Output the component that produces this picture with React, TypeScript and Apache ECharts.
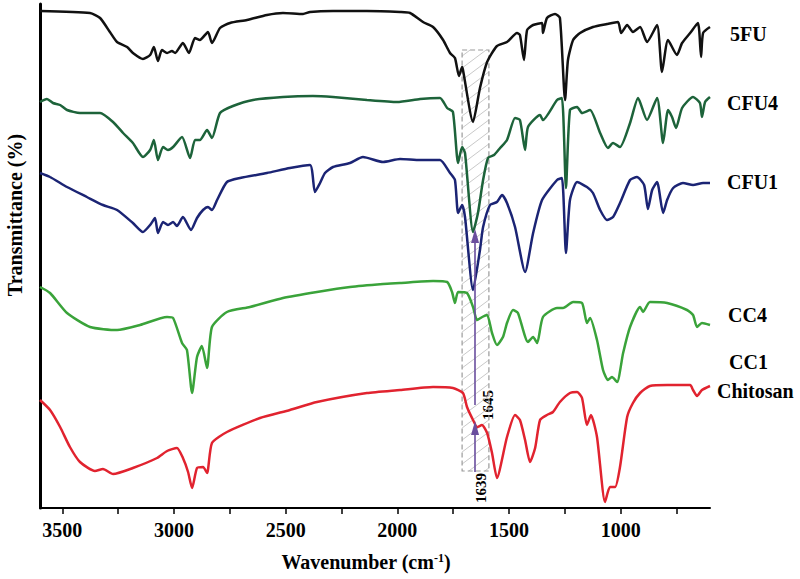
import React, { useEffect, useRef } from "react";
import * as echarts from "echarts";

// x-axis (wavenumber, cm-1)
const X_MIN = 600;
const X_MAX = 3600;
const X_LABELS = [3500, 3000, 2500, 2000, 1500, 1000];
const X_TICKS = [3500, 3250, 3000, 2750, 2500, 2250, 2000, 1750, 1500, 1250, 1000, 750];

// transmittance (arbitrary offset units), [wavenumber, value]
const FU5: [number, number][] = [
  [3600, 497], [3376, 495], [3331, 490], [3287, 476], [3255, 466], [3210, 461], [3184, 455],
  [3139, 449], [3107, 453], [3090, 461], [3072, 447], [3054, 458], [3031, 455], [3009, 457],
  [2995, 455], [2960, 465], [2933, 455], [2906, 470], [2884, 468], [2848, 476], [2830, 465],
  [2794, 480], [2749, 485], [2673, 488], [2584, 493], [2512, 495], [2422, 494], [2391, 496],
  [2288, 497], [2136, 497], [1988, 496], [1943, 495], [1885, 486], [1840, 481], [1795, 468],
  [1764, 455], [1742, 450], [1724, 432], [1710, 441], [1706, 438], [1661, 386], [1630, 420],
  [1598, 446], [1554, 462], [1509, 466], [1464, 475], [1451, 473], [1433, 448], [1419, 478],
  [1392, 483], [1352, 485], [1348, 475], [1330, 490], [1294, 494], [1272, 490], [1249, 408],
  [1236, 448], [1213, 468], [1182, 475], [1124, 481], [1061, 484], [1012, 486], [998, 475],
  [971, 483], [945, 476], [913, 481], [882, 466], [837, 483], [815, 436], [788, 468],
  [748, 453], [725, 465], [689, 475], [654, 485], [640, 451], [631, 475], [600, 481],
];

const CFU4: [number, number][] = [
  [3600, 406], [3569, 409], [3542, 405], [3510, 403], [3479, 398], [3421, 395], [3331, 395],
  [3273, 386], [3228, 375], [3184, 365], [3139, 351], [3107, 358], [3090, 368], [3072, 348],
  [3049, 361], [3027, 358], [3004, 361], [2964, 371], [2928, 350], [2906, 368], [2884, 368],
  [2852, 378], [2830, 370], [2794, 395], [2736, 402], [2646, 408], [2512, 411], [2378, 412],
  [2288, 411], [2136, 408], [2001, 406], [1898, 409], [1809, 410], [1777, 400], [1751, 396],
  [1728, 345], [1710, 361], [1697, 355], [1661, 276], [1639, 295], [1616, 328], [1594, 350],
  [1567, 353], [1540, 360], [1509, 368], [1473, 390], [1451, 388], [1428, 358], [1415, 381],
  [1361, 393], [1348, 388], [1285, 408], [1263, 410], [1245, 320], [1227, 398], [1195, 401],
  [1173, 395], [1137, 398], [1092, 375], [1057, 360], [1034, 365], [1003, 361], [958, 385],
  [922, 410], [882, 388], [837, 410], [810, 365], [788, 398], [770, 391], [752, 380],
  [725, 400], [676, 411], [645, 405], [636, 391], [622, 406], [600, 411],
];

const CFU1: [number, number][] = [
  [3600, 335], [3555, 331], [3479, 321], [3390, 311], [3318, 303], [3255, 298], [3184, 285],
  [3139, 276], [3107, 283], [3085, 290], [3072, 275], [3049, 286], [3027, 283], [3004, 286],
  [2987, 282], [2960, 291], [2924, 278], [2897, 290], [2870, 298], [2848, 301], [2830, 298],
  [2807, 308], [2763, 326], [2704, 330], [2584, 335], [2481, 340], [2391, 343], [2369, 316],
  [2346, 325], [2324, 335], [2288, 341], [2212, 345], [2154, 351], [2064, 346], [1988, 349],
  [1898, 348], [1809, 348], [1764, 335], [1742, 328], [1728, 295], [1710, 303], [1697, 291],
  [1661, 218], [1630, 258], [1616, 281], [1585, 303], [1554, 306], [1531, 313], [1509, 305],
  [1473, 281], [1428, 236], [1392, 275], [1352, 308], [1285, 328], [1263, 330], [1245, 255],
  [1227, 308], [1195, 326], [1151, 321], [1124, 315], [1092, 298], [1061, 288], [1034, 291],
  [1003, 305], [958, 328], [927, 331], [895, 323], [878, 299], [859, 318], [837, 326],
  [810, 295], [792, 308], [765, 320], [721, 325], [676, 323], [631, 325], [600, 325],
];

const CC4: [number, number][] = [
  [3600, 221], [3555, 215], [3479, 195], [3376, 181], [3255, 178], [3152, 183], [3031, 191],
  [3004, 190], [2964, 165], [2942, 158], [2919, 115], [2897, 151], [2875, 162], [2852, 140],
  [2830, 181], [2763, 196], [2660, 201], [2512, 210], [2360, 216], [2212, 221], [2064, 224],
  [1988, 225], [1840, 227], [1777, 226], [1755, 216], [1742, 205], [1728, 216], [1688, 215],
  [1661, 201], [1643, 188], [1620, 191], [1598, 193], [1576, 175], [1554, 163], [1527, 171],
  [1509, 185], [1482, 198], [1460, 195], [1415, 166], [1392, 171], [1374, 165], [1348, 191],
  [1285, 200], [1258, 200], [1213, 206], [1173, 205], [1151, 185], [1137, 190], [1106, 168],
  [1079, 138], [1057, 128], [1039, 131], [1016, 126], [989, 155], [958, 181], [913, 201],
  [900, 196], [869, 206], [792, 205], [703, 198], [676, 193], [658, 181], [636, 185], [600, 183],
];

const CHITOSAN: [number, number][] = [
  [3600, 108], [3555, 98], [3510, 81], [3466, 61], [3421, 46], [3354, 37], [3318, 39],
  [3273, 34], [3184, 40], [3076, 50], [3031, 57], [2987, 60], [2960, 50], [2937, 36],
  [2919, 20], [2897, 40], [2870, 41], [2852, 35], [2830, 65], [2763, 76], [2615, 90],
  [2481, 98], [2360, 106], [2136, 115], [1988, 118], [1840, 121], [1751, 120], [1706, 115],
  [1688, 101], [1661, 88], [1643, 81], [1621, 83], [1598, 75], [1576, 55], [1554, 30],
  [1509, 71], [1473, 93], [1451, 88], [1428, 68], [1406, 46], [1383, 60], [1361, 88],
  [1330, 93], [1303, 96], [1272, 106], [1227, 115], [1195, 116], [1173, 110], [1151, 83],
  [1133, 93], [1106, 71], [1070, 6], [1048, 21], [1025, 21], [1003, 41], [971, 91],
  [945, 105], [913, 115], [869, 122], [792, 123], [689, 123], [676, 118], [658, 112],
  [636, 118], [600, 122],
];

// hatched band: [wn start, wn end, value bottom, value top]
const BAND: [number, number, number, number][] = [[1710, 1590, 37, 458]];
// annotation arrows: wavenumber, from value, to value, label
const ARROWS = [
  { wn: 1652, from: 103, to: 272, label: "1645" },
  { wn: 1652, from: 36, to: 80, label: "1639" },
];

const CURVES = [
  { name: "5FU", data: FU5, color: "#111111" },
  { name: "CFU4", data: CFU4, color: "#1d633a" },
  { name: "CFU1", data: CFU1, color: "#1b2474" },
  { name: "CC4", data: CC4, color: "#3aa33a" },
  { name: "Chitosan", data: CHITOSAN, color: "#e1232f" },
];

const SIDE_LABELS = ["5FU", "CFU4", "CFU1", "CC4", "CC1", "Chitosan"];

const FONT = "Liberation Serif";

export default function App() {
  const ref = useRef<HTMLDivElement>(null);
  useEffect(() => {
    if (!ref.current) return;
    const chart = echarts.init(ref.current, undefined, { renderer: "svg" });

    const labelPos: Record<string, [number, number]> = {
      "5FU": [730, 34],
      CFU4: [727, 103],
      CFU1: [727, 182],
      CC4: [728, 315],
      CC1: [729, 362],
      Chitosan: [717, 391],
    };

    const txt = (size: number) => ({
      fontFamily: FONT,
      fontWeight: "bold",
      fontSize: size,
      fill: "#000",
    });

    const series: any[] = [
      {
        type: "custom",
        name: "band",
        silent: true,
        z: 1,
        encode: { x: [0, 1], y: [2, 3] },
        data: BAND,
        renderItem: (params: any, api: any) => {
          const tl = api.coord([api.value(0), api.value(3)]);
          const br = api.coord([api.value(1), api.value(2)]);
          const x0 = tl[0], y0 = tl[1], x1 = br[0], y1 = br[1];
          const w = x1 - x0;
          const k = 0.75;
          const step = 12;
          const children: any[] = [];
          for (let c = y0 + step / 2; c < y1 + w * k; c += step) {
            let sx = x0, sy = c;
            if (sy > y1) { sx = x0 + (sy - y1) / k; sy = y1; }
            let ex = x1, ey = c - w * k;
            if (ey < y0) { ex = x0 + (c - y0) / k; ey = y0; }
            if (ex > sx) {
              children.push({
                type: "line",
                shape: { x1: sx, y1: sy, x2: ex, y2: ey },
                style: { stroke: "#c9c9c9", lineWidth: 1 },
              });
            }
          }
          children.push({
            type: "rect",
            shape: { x: x0, y: y0, width: w, height: y1 - y0 },
            style: { fill: "none", stroke: "#9a9a9a", lineWidth: 1.2, lineDash: [5, 3] },
          });
          return { type: "group", children };
        },
      },
      ...CURVES.map((c) => ({
        type: "line",
        name: c.name,
        data: c.data,
        showSymbol: false,
        smooth: 0.2,
        z: 3,
        lineStyle: { color: c.color, width: 2.5 },
        itemStyle: { color: c.color },
      })),
      {
        type: "line",
        name: "arrows",
        data: [],
        z: 5,
        markLine: {
          silent: true,
          symbol: ["none", "triangle"],
          symbolSize: [8, 14],
          label: { show: false },
          lineStyle: { color: "#6a4e9e", width: 1.6, type: "solid" },
          itemStyle: { color: "#6a4e9e" },
          data: ARROWS.map((a) => [
            { coord: [a.wn, a.from] },
            { coord: [a.wn, a.to] },
          ]),
        },
      },
    ];

    const graphic: any[] = [
      {
        type: "text",
        x: 15,
        y: 215,
        rotation: Math.PI / 2,
        style: {
          text: "Transmittance (%)",
          ...txt(20),
          align: "center",
          verticalAlign: "middle",
        },
      },
      {
        type: "text",
        x: 366,
        y: 562,
        style: {
          text: "Wavenumber (cm{sup|-1})",
          ...txt(20),
          align: "center",
          verticalAlign: "middle",
          rich: {
            sup: { ...txt(12), verticalAlign: "top", padding: [0, 0, 8, 0] },
          },
        },
      },
      { type: "text", x: 488, y: 405, rotation: Math.PI / 2,
        style: { text: ARROWS[0].label, ...txt(15), align: "center", verticalAlign: "middle" } },
      { type: "text", x: 481, y: 488, rotation: Math.PI / 2,
        style: { text: ARROWS[1].label, ...txt(15), align: "center", verticalAlign: "middle" } },
      ...SIDE_LABELS.map((t) => ({
        type: "text",
        x: labelPos[t][0],
        y: labelPos[t][1],
        style: { text: t, ...txt(20), align: "left", verticalAlign: "middle" },
      })),
    ];

    chart.setOption({
      animation: false,
      backgroundColor: "#ffffff",
      grid: { left: 40, right: 90, top: 4, bottom: 71 },
      xAxis: {
        type: "value",
        min: X_MIN,
        max: X_MAX,
        inverse: true,
        axisLine: { show: true, onZero: false, lineStyle: { color: "#000", width: 2 } },
        axisTick: { show: true, inside: false, length: 6, customValues: X_TICKS, lineStyle: { color: "#000", width: 1.5 } },
        axisLabel: {
          show: true,
          customValues: X_LABELS,
          formatter: (v: number) => String(v),
          margin: 12,
          fontFamily: FONT,
          fontWeight: "bold",
          fontSize: 20,
          color: "#000",
        },
        splitLine: { show: false },
      },
      yAxis: {
        type: "value",
        min: 0,
        max: 504,
        axisLine: { show: true, lineStyle: { color: "#000", width: 3 } },
        axisTick: { show: false },
        axisLabel: { show: false },
        splitLine: { show: false },
      },
      series,
      graphic,
    });
    return () => chart.dispose();
  }, []);
  return (
    <div
      ref={ref}
      style={{ position: "fixed", left: 0, top: 0, width: 800, height: 579, background: "#fff" }}
    />
  );
}
